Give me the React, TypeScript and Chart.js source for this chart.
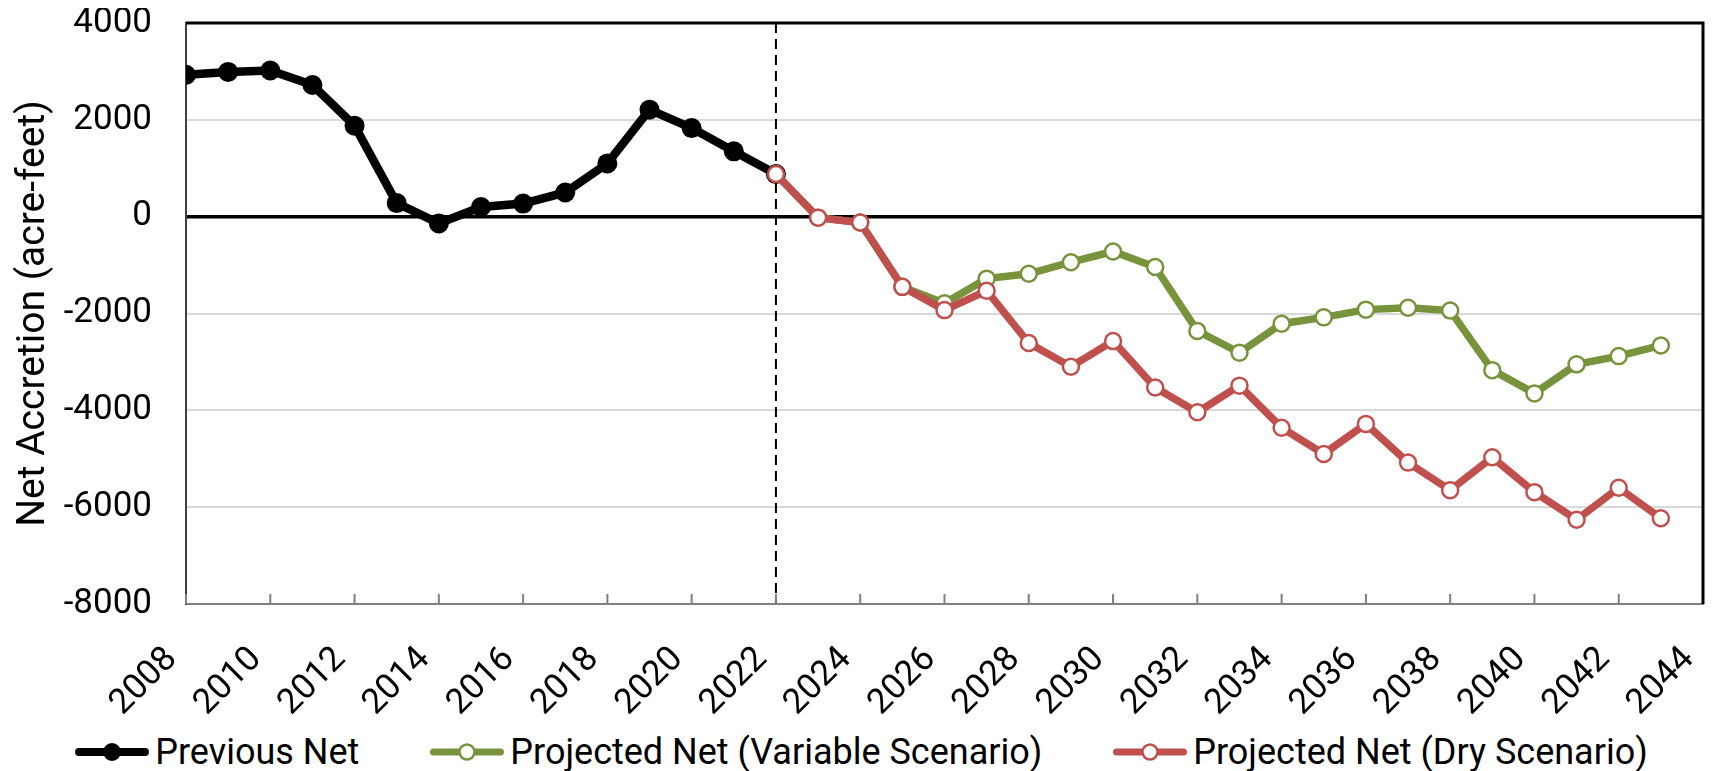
import React, { useEffect, useRef } from 'react';
import { Chart, registerables } from 'chart.js';

Chart.register(...registerables);

// ---- data ----
const previousYears = [2008, 2009, 2010, 2011, 2012, 2013, 2014, 2015, 2016, 2017, 2018, 2019, 2020, 2021, 2022];
const previousNet = [2930, 2990, 3020, 2720, 1880, 280, -140, 200, 270, 500, 1100, 2210, 1830, 1350, 880];

const projectedYears = [2022, 2023, 2024, 2025, 2026, 2027, 2028, 2029, 2030, 2031, 2032, 2033, 2034, 2035, 2036, 2037, 2038, 2039, 2040, 2041, 2042, 2043];
const variableNet = [880, -20, -120, -1450, -1790, -1280, -1180, -940, -720, -1040, -2360, -2810, -2210, -2080, -1920, -1880, -1940, -3170, -3650, -3050, -2880, -2660];
const dryNet = [880, -20, -120, -1450, -1930, -1530, -2610, -3100, -2570, -3530, -4040, -3490, -4360, -4900, -4280, -5080, -5650, -4970, -5690, -6260, -5600, -6230];

const xTickYears = [2008, 2010, 2012, 2014, 2016, 2018, 2020, 2022, 2024, 2026, 2028, 2030, 2032, 2034, 2036, 2038, 2040, 2042, 2044];
const yTickValues = [4000, 2000, 0, -2000, -4000, -6000, -8000];
const dividerYear = 2022;

const seriesNames = ['Previous Net', 'Projected Net (Variable Scenario)', 'Projected Net (Dry Scenario)'];
const yTitle = 'Net Accretion (acre-feet)';

const BLACK = '#000000';
const GREEN = '#77933C';
const RED = '#C0504D';
const FONT = 'Roboto';

const toPoints = (xs: number[], ys: number[]) => xs.map((x, i) => ({ x, y: ys[i] }));

const framePlugin = {
  id: 'frame',
  beforeDatasetsDraw(chart: any) {
    const { ctx, chartArea, scales } = chart;
    const x = scales.x.getPixelForValue(dividerYear);
    ctx.save();
    ctx.strokeStyle = '#000';
    ctx.lineWidth = 2;
    ctx.setLineDash([10, 6]);
    ctx.beginPath();
    ctx.moveTo(x, chartArea.top);
    ctx.lineTo(x, chartArea.bottom);
    ctx.stroke();
    ctx.setLineDash([]);
    // inside tick marks on x axis
    ctx.strokeStyle = '#7f7f7f';
    ctx.lineWidth = 2;
    xTickYears.forEach((yr) => {
      const px = scales.x.getPixelForValue(yr);
      ctx.beginPath();
      ctx.moveTo(px, chartArea.bottom);
      ctx.lineTo(px, chartArea.bottom - 10);
      ctx.stroke();
    });
    ctx.restore();
  },
  afterDraw(chart: any) {
    const { ctx, chartArea } = chart;
    ctx.save();
    ctx.strokeStyle = '#000';
    ctx.lineWidth = 3;
    ctx.beginPath();
    ctx.moveTo(chartArea.left, chartArea.top);
    ctx.lineTo(chartArea.right, chartArea.top);
    ctx.lineTo(chartArea.right, chartArea.bottom);
    ctx.stroke();
    ctx.restore();
  },
};

function LegendSymbol({ color, filled, lw, r }: { color: string; filled: boolean; lw: number; r: number }) {
  return (
    <svg width={74} height={26} style={{ display: 'block' }}>
      <line x1={lw / 2} y1={13} x2={74 - lw / 2} y2={13} stroke={color} strokeWidth={lw} strokeLinecap="round" />
      <circle cx={37} cy={13} r={r} fill={filled ? color : '#fff'} stroke={color} strokeWidth={filled ? 0 : 2.5} />
    </svg>
  );
}

export default function App() {
  const canvasRef = useRef<HTMLCanvasElement | null>(null);

  useEffect(() => {
    if (!canvasRef.current) return;
    const chart = new Chart(canvasRef.current, {
      type: 'line',
      data: {
        datasets: [
          {
            label: seriesNames[0],
            data: toPoints(previousYears, previousNet),
            borderColor: BLACK,
            backgroundColor: BLACK,
            borderWidth: 8.5,
            pointRadius: 10,
            pointBackgroundColor: BLACK,
            pointBorderWidth: 0,
            tension: 0,
            order: 1,
          },
          {
            label: seriesNames[1],
            data: toPoints(projectedYears, variableNet),
            borderColor: GREEN,
            backgroundColor: '#fff',
            borderWidth: 7.5,
            pointRadius: 8,
            pointBackgroundColor: '#fff',
            pointBorderColor: GREEN,
            pointBorderWidth: 2.5,
            tension: 0,
            order: 2,
          },
          {
            label: seriesNames[2],
            data: toPoints(projectedYears, dryNet),
            borderColor: RED,
            backgroundColor: '#fff',
            borderWidth: 7.5,
            pointRadius: 8,
            pointBackgroundColor: '#fff',
            pointBorderColor: RED,
            pointBorderWidth: 2.5,
            tension: 0,
            order: 0,
          },
        ],
      },
      options: {
        animation: false,
        responsive: true,
        maintainAspectRatio: false,
        layout: { padding: { top: 15, right: 12, left: 0, bottom: 0 } },
        plugins: { legend: { display: false }, tooltip: { enabled: false } },
        scales: {
          x: {
            type: 'linear',
            min: xTickYears[0],
            max: xTickYears[xTickYears.length - 1],
            afterBuildTicks: (scale: any) => {
              scale.ticks = xTickYears.map((v) => ({ value: v }));
            },
            afterFit: (scale: any) => {
              scale.height = 116;
              scale.paddingLeft = 0;
              scale.paddingRight = 0;
            },
            grid: { display: false },
            border: { display: true, color: '#7f7f7f', width: 2 },
            ticks: {
              autoSkip: false,
              minRotation: 45,
              maxRotation: 45,
              padding: 27,
              labelOffset: -14,
              color: '#000',
              font: { family: FONT, size: 35 },
              callback: (v: any) => String(v),
            },
          },
          y: {
            type: 'linear',
            min: yTickValues[yTickValues.length - 1],
            max: yTickValues[0],
            afterBuildTicks: (scale: any) => {
              scale.ticks = yTickValues.map((v) => ({ value: v }));
            },
            afterFit: (scale: any) => {
              scale.width = 178;
              scale.paddingTop = 0;
              scale.paddingBottom = 0;
            },
            grid: {
              drawTicks: false,
              color: (c: any) => {
                const v = c.tick && c.tick.value;
                if (v === 0) return '#000';
                if (v === yTickValues[0] || v === yTickValues[yTickValues.length - 1]) return 'rgba(0,0,0,0)';
                return '#d9d9d9';
              },
              lineWidth: (c: any) => (c.tick && c.tick.value === 0 ? 3.5 : 2),
            },
            border: { display: true, color: '#404040', width: 2 },
            ticks: {
              padding: 34,
              color: '#000',
              font: { family: FONT, size: 35, lineHeight: 0.8 },
              callback: (v: any) => String(v),
            },
            title: {
              display: true,
              text: yTitle,
              color: '#000',
              font: { family: FONT, size: 39 },
              padding: { top: 3, bottom: 0 },
            },
          },
        },
      },
      plugins: [framePlugin],
    } as any);
    return () => chart.destroy();
  }, []);

  const legendItems = [
    { name: seriesNames[0], color: BLACK, filled: true, lw: 8, r: 9 },
    { name: seriesNames[1], color: GREEN, filled: false, lw: 7, r: 7.5 },
    { name: seriesNames[2], color: RED, filled: false, lw: 7, r: 7.5 },
  ];

  return (
    <div style={{ width: '100%' }}>
      <div style={{ position: 'relative', width: '100%', height: 712 }}>
        <canvas ref={canvasRef} />
      </div>
      <div
        style={{
          display: 'flex',
          justifyContent: 'center',
          alignItems: 'center',
          gap: 71,
          marginTop: 8,
          height: 48,
          fontFamily: FONT,
          fontSize: 36,
          color: '#000',
          whiteSpace: 'nowrap',
        }}
      >
        {legendItems.map((it) => (
          <div key={it.name} style={{ display: 'flex', alignItems: 'center' }}>
            <LegendSymbol color={it.color} filled={it.filled} lw={it.lw} r={it.r} />
            <span style={{ marginLeft: 6, lineHeight: '48px' }}>{it.name}</span>
          </div>
        ))}
      </div>
    </div>
  );
}
